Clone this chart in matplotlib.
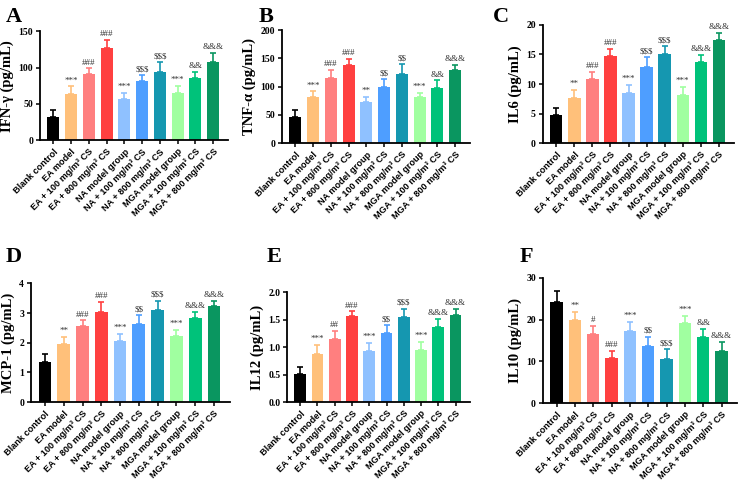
import matplotlib
matplotlib.use("Agg")
import matplotlib.pyplot as plt
import numpy as np

# Groups and colours
groups = [
    "Blank control",
    "EA model",
    "EA + 100 mg/m³ CS",
    "EA + 800 mg/m³ CS",
    "NA model group",
    "NA + 100 mg/m³ CS",
    "NA + 800 mg/m³ CS",
    "MGA model group",
    "MGA + 100 mg/m³ CS",
    "MGA + 800 mg/m³ CS",
]
colors = ["#000000", "#FFC07A", "#FF7F7F", "#FF4040", "#8FC1FF",
          "#4E9EFF", "#1597B0", "#A0FFA0", "#00C27A", "#0A9660"]

# Panel A - IFN-gamma
ifn_mean = [32, 63, 91, 127, 56, 82, 94, 65, 85, 107]
ifn_top = [42, 74, 99, 138, 65, 90, 107, 75, 94, 120]
ifn_sig = ["", "***", "###", "###", "***", "$$$", "$$$", "***", "&&", "&&&"]

# Panel B - TNF-alpha
tnf_mean = [47, 82, 115, 138, 73, 100, 122, 81, 98, 129]
tnf_top = [59, 92, 130, 149, 82, 114, 140, 89, 111, 139]
tnf_sig = ["", "***", "###", "###", "**", "$$", "$$", "***", "&&", "&&&"]

# Panel C - IL6
il6_mean = [4.8, 7.6, 10.8, 14.7, 8.5, 12.8, 15.0, 8.2, 13.8, 17.4]
il6_top = [5.9, 9.0, 12.1, 16.0, 9.9, 14.5, 16.4, 9.5, 14.9, 18.6]
il6_sig = ["", "**", "###", "###", "***", "$$$", "$$$", "***", "&&&", "&&&"]

# Panel D - MCP-1
mcp_mean = [1.35, 1.95, 2.55, 3.02, 2.07, 2.62, 3.12, 2.23, 2.82, 3.23]
mcp_top = [1.63, 2.20, 2.75, 3.38, 2.30, 2.93, 3.42, 2.43, 3.05, 3.42]
mcp_sig = ["", "**", "###", "###", "***", "$$", "$$$", "***", "&&&", "&&&"]

# Panel E - IL12
il12_mean = [0.51, 0.88, 1.15, 1.56, 0.93, 1.25, 1.55, 0.94, 1.37, 1.58]
il12_top = [0.64, 1.04, 1.30, 1.65, 1.08, 1.40, 1.70, 1.10, 1.51, 1.70]
il12_sig = ["", "***", "##", "###", "***", "$$", "$$$", "***", "&&&", "&&&"]

# Panel F - IL10
il10_mean = [24.2, 19.9, 16.5, 10.8, 17.4, 13.8, 10.6, 19.2, 15.8, 12.6]
il10_top = [26.8, 21.9, 18.6, 12.6, 19.5, 15.9, 13.0, 20.9, 17.8, 14.6]
il10_sig = ["", "**", "#", "###", "***", "$$", "$$$", "***", "&&", "&&&"]

panels = [
    ("A", "IFN-γ (pg/mL)", ifn_mean, ifn_top, ifn_sig, 150, 50, "{:.0f}",
     [0.053, 0.708, 0.249, 0.227], (0.008, 0.985)),
    ("B", "TNF-α (pg/mL)", tnf_mean, tnf_top, tnf_sig, 200, 50, "{:.0f}",
     [0.373, 0.702, 0.249, 0.235], (0.342, 0.985)),
    ("C", "IL6 (pg/mL)", il6_mean, il6_top, il6_sig, 20, 5, "{:.0f}",
     [0.718, 0.702, 0.253, 0.246], (0.652, 0.985)),
    ("D", "MCP-1 (pg/mL)", mcp_mean, mcp_top, mcp_sig, 4, 1, "{:.0f}",
     [0.041, 0.1625, 0.263, 0.247], (0.008, 0.485)),
    ("E", "IL12 (pg/mL)", il12_mean, il12_top, il12_sig, 2.0, 0.5, "{:.1f}",
     [0.380, 0.1625, 0.242, 0.229], (0.353, 0.485)),
    ("F", "IL10 (pg/mL)", il10_mean, il10_top, il10_sig, 30, 10, "{:.0f}",
     [0.718, 0.160, 0.257, 0.261], (0.687, 0.485)),
]

fig = plt.figure(figsize=(7.56, 4.8), dpi=100)
x = np.arange(len(groups))

for letter, ylabel, mean, top, sig, ymax, step, fmt, pos, lpos in panels:
    ax = fig.add_axes(pos)
    mean = np.array(mean)
    err = np.array(top) - mean
    ax.bar(x, mean, width=0.68, color=colors, zorder=2)
    for i in range(len(x)):
        ax.errorbar(x[i], mean[i], yerr=[[0], [err[i]]], color=colors[i],
                    capsize=2.5, elinewidth=1.2, capthick=1.2, zorder=1)
        if sig[i]:
            ax.text(x[i], top[i] + ymax * 0.015, sig[i], ha="center", va="bottom",
                    fontsize=6.5, family="Liberation Serif", color="#333333",
                    parse_math=False)
    ax.set_xlim(-0.75, 9.85)
    ax.set_ylim(0, ymax)
    ticks = np.arange(0, ymax + step / 2, step)
    ax.set_yticks(ticks)
    ax.set_yticklabels([fmt.format(t) for t in ticks], family="Liberation Serif",
                       fontweight="bold", fontsize=7)
    ax.set_xticks(x)
    ax.set_xticklabels(groups, rotation=45, ha="right", rotation_mode="anchor",
                       family="Liberation Sans", fontweight="bold", fontsize=6.6)
    ax.set_ylabel(ylabel, family="Liberation Serif", fontweight="bold", fontsize=10.5,
                  labelpad=3)
    for side in ["top", "right"]:
        ax.spines[side].set_visible(False)
    for side in ["left", "bottom"]:
        ax.spines[side].set_linewidth(1.3)
    ax.tick_params(axis="both", width=1.1, length=3, pad=2)
    fig.text(lpos[0], lpos[1], letter, family="Liberation Serif", fontweight="bold",
             fontsize=16, va="top", ha="left")

plt.savefig("out.png", dpi=100)
